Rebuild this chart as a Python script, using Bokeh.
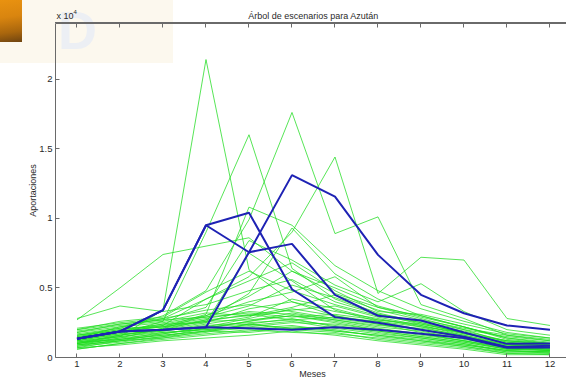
from bokeh.plotting import figure
from bokeh.models import (Range1d, LinearAxis, FixedTicker, Label, NumeralTickFormatter,
                          CustomJSTickFormatter, GridBox, Div)
from bokeh.embed import file_html
from bokeh.resources import INLINE
import math

# ---------------- data (values in units of 10^4) ----------------
months = [1, 2, 3, 4, 5, 6, 7, 8, 9, 10, 11, 12]
x_ticks = [1, 2, 3, 4, 5, 6, 7, 8, 9, 10, 11, 12]
y_ticks = [0, 0.5, 1, 1.5, 2]

# scenario tree (blue)
blue_1 = [0.134, 0.187, 0.340, 0.950, 1.040, 0.490, 0.290, 0.250, 0.200, 0.150, 0.075, 0.085]
blue_2 = [0.134, 0.187, 0.340, 0.950, 0.756, 0.816, 0.450, 0.300, 0.266, 0.180, 0.098, 0.100]
blue_3 = [0.134, 0.187, 0.199, 0.218, 0.756, 1.310, 1.155, 0.737, 0.450, 0.318, 0.230, 0.200]
blue_4 = [0.134, 0.187, 0.199, 0.218, 0.210, 0.200, 0.218, 0.200, 0.170, 0.140, 0.070, 0.072]

# simulated series (green)
g01 = [0.10, 0.15, 0.34, 2.14, 0.63, 0.40, 0.30, 0.25, 0.20, 0.15, 0.08, 0.06]
g02 = [0.12, 0.17, 0.26, 0.90, 1.60, 0.64, 0.42, 0.31, 0.24, 0.18, 0.10, 0.09]
g03 = [0.16, 0.21, 0.30, 0.48, 0.99, 1.76, 0.89, 1.01, 0.38, 0.28, 0.16, 0.12]
g04 = [0.14, 0.22, 0.28, 0.42, 0.58, 0.90, 1.44, 0.46, 0.72, 0.70, 0.28, 0.23]
g05 = [0.27, 0.50, 0.74, 0.80, 0.86, 0.62, 0.46, 0.36, 0.30, 0.22, 0.13, 0.10]
g06 = [0.28, 0.37, 0.33, 0.38, 0.48, 0.56, 0.40, 0.31, 0.26, 0.20, 0.15, 0.12]
g07 = [0.13, 0.19, 0.22, 0.31, 1.08, 0.95, 0.66, 0.48, 0.35, 0.26, 0.18, 0.14]
g08 = [0.18, 0.24, 0.27, 0.36, 0.84, 0.70, 0.52, 0.40, 0.53, 0.33, 0.20, 0.16]
g09 = [0.11, 0.16, 0.20, 0.27, 0.46, 0.93, 0.60, 0.42, 0.30, 0.22, 0.14, 0.10]
g10 = [0.20, 0.26, 0.29, 0.47, 0.62, 0.48, 0.38, 0.30, 0.25, 0.17, 0.12, 0.09]
g11 = [0.09, 0.14, 0.21, 0.30, 0.40, 0.47, 0.58, 0.36, 0.28, 0.20, 0.11, 0.08]
g12 = [0.15, 0.20, 0.24, 0.25, 0.35, 0.40, 0.33, 0.28, 0.22, 0.18, 0.10, 0.07]
g13 = [0.07, 0.12, 0.17, 0.22, 0.28, 0.35, 0.30, 0.24, 0.18, 0.14, 0.07, 0.05]
g14 = [0.19, 0.23, 0.26, 0.32, 0.30, 0.36, 0.45, 0.34, 0.27, 0.21, 0.16, 0.13]
g15 = [0.08, 0.11, 0.15, 0.18, 0.24, 0.28, 0.22, 0.18, 0.14, 0.10, 0.05, 0.04]
g16 = [0.12, 0.18, 0.23, 0.28, 0.33, 0.31, 0.27, 0.23, 0.21, 0.16, 0.09, 0.07]
g17 = [0.06, 0.10, 0.13, 0.16, 0.19, 0.22, 0.20, 0.15, 0.12, 0.08, 0.03, 0.03]
g18 = [0.17, 0.21, 0.22, 0.26, 0.27, 0.30, 0.26, 0.21, 0.17, 0.12, 0.07, 0.06]
g19 = [0.10, 0.13, 0.18, 0.20, 0.22, 0.25, 0.24, 0.20, 0.16, 0.12, 0.06, 0.05]
g20 = [0.14, 0.17, 0.19, 0.23, 0.25, 0.27, 0.29, 0.26, 0.22, 0.15, 0.09, 0.08]
g21 = [0.09, 0.12, 0.14, 0.17, 0.20, 0.18, 0.17, 0.14, 0.11, 0.08, 0.04, 0.04]
g22 = [0.21, 0.25, 0.28, 0.34, 0.38, 0.33, 0.28, 0.24, 0.20, 0.14, 0.08, 0.07]
g23 = [0.11, 0.15, 0.19, 0.24, 0.29, 0.42, 0.35, 0.27, 0.23, 0.17, 0.11, 0.09]
g24 = [0.07, 0.09, 0.12, 0.14, 0.16, 0.19, 0.16, 0.12, 0.09, 0.06, 0.02, 0.02]
g25 = [0.13, 0.16, 0.21, 0.26, 0.31, 0.27, 0.23, 0.19, 0.15, 0.11, 0.06, 0.05]
g26 = [0.16, 0.19, 0.24, 0.29, 0.37, 0.52, 0.43, 0.32, 0.25, 0.19, 0.12, 0.10]
g27 = [0.08, 0.13, 0.16, 0.19, 0.21, 0.23, 0.19, 0.16, 0.13, 0.09, 0.05, 0.03]
g28 = [0.10, 0.14, 0.17, 0.21, 0.26, 0.32, 0.27, 0.22, 0.19, 0.13, 0.08, 0.06]
g29 = [0.15, 0.18, 0.20, 0.22, 0.24, 0.21, 0.22, 0.19, 0.15, 0.11, 0.06, 0.06]
g30 = [0.12, 0.15, 0.18, 0.20, 0.23, 0.26, 0.21, 0.17, 0.14, 0.10, 0.04, 0.04]
g31 = [0.06, 0.10, 0.14, 0.19, 0.24, 0.20, 0.18, 0.13, 0.10, 0.07, 0.03, 0.02]
g32 = [0.18, 0.22, 0.25, 0.30, 0.44, 0.62, 0.50, 0.37, 0.29, 0.22, 0.14, 0.11]
g33 = [0.11, 0.13, 0.16, 0.19, 0.18, 0.21, 0.19, 0.16, 0.12, 0.09, 0.05, 0.04]
g34 = [0.14, 0.19, 0.22, 0.27, 0.30, 0.34, 0.37, 0.29, 0.23, 0.16, 0.10, 0.08]
g35 = [0.09, 0.12, 0.15, 0.21, 0.26, 0.30, 0.25, 0.20, 0.17, 0.12, 0.07, 0.05]
g36 = [0.20, 0.24, 0.27, 0.29, 0.32, 0.29, 0.31, 0.27, 0.24, 0.18, 0.12, 0.10]
g37 = [0.10, 0.16, 0.20, 0.25, 0.75, 0.55, 0.34, 0.26, 0.20, 0.15, 0.09, 0.07]
g38 = [0.16, 0.20, 0.23, 0.42, 0.55, 0.68, 0.48, 0.33, 0.31, 0.24, 0.17, 0.14]

green_series = [g01, g02, g03, g04, g05, g06, g07, g08, g09, g10, g11, g12, g13,
                g14, g15, g16, g17, g18, g19, g20, g21, g22, g23, g24, g25, g26,
                g27, g28, g29, g30, g31, g32, g33, g34, g35, g36, g37, g38]
blue_series = [blue_1, blue_2, blue_3, blue_4]

title_text = "Árbol de escenarios para Azután"
x_label = "Meses"
y_label = "Aportaciones"
exp_base = "x 10"
exp_power = "4"

FONT = "Liberation Sans"
AX = "#6a6a6a"
TXT = "#2a2a2a"
W, H = 566, 379

# ---------------- bottom layer: page decoration (cream band, watermark, logo, box edge) ----------------
deco_html = (
    '<div style="position:relative;width:566px;height:379px;overflow:hidden;background:white">'
    '<div style="position:absolute;left:0;top:0;width:173px;height:63px;background:#fcf8ee"></div>'
    '<div style="position:absolute;left:58px;top:3px;font:bold 54px \'Liberation Sans\';'
    'line-height:54px;color:#eceff4">D</div>'
    '<div style="position:absolute;left:0;top:0;width:22px;height:42px;'
    'background:linear-gradient(172deg,#e99210 0%,#d9850f 40%,#a9660d 75%,#6f4410 100%)"></div>'
    '<div style="position:absolute;left:55px;top:22px;width:511px;height:1px;background:#6a6a6a"></div>'
    '</div>'
)
deco = Div(text=deco_html, width=W, height=H, margin=0)

# ---------------- middle layer: outer texts (title, axis labels, exponent) ----------------
texts = figure(width=W, height=H, output_backend="svg", toolbar_location=None, title=None,
               x_range=Range1d(0, 1), y_range=Range1d(0, 1), x_axis_type=None, y_axis_type=None,
               min_border=0)
texts.outline_line_color = None
texts.grid.visible = False
texts.background_fill_alpha = 0
texts.border_fill_alpha = 0

def txt(x, y, t, size="9px", angle=0.0, align="center"):
    return Label(x=x, y=y, x_units="canvas", y_units="canvas", text=t, text_font=FONT,
                 text_font_size=size, text_color=TXT, text_align=align, text_baseline="middle",
                 angle=angle)

texts.add_layout(txt(313, 15, title_text), "above")
texts.add_layout(txt(73, 11, exp_power, size="6px", align="left"), "above")
texts.add_layout(txt(56, 15, exp_base, align="left"), "left")
texts.add_layout(txt(32, 190, y_label, angle=math.pi / 2), "left")
texts.add_layout(txt(312, 373, x_label), "below")

# ---------------- top layer: the chart ----------------
p = figure(width=W, height=H, output_backend="svg", toolbar_location=None, title=None,
           x_range=Range1d(0.5, 12.384), y_range=Range1d(0, 2.399),
           min_border_left=55, min_border_right=0, min_border_top=23, min_border_bottom=22)
p.outline_line_color = None
p.xgrid.visible = False
p.ygrid.visible = False
p.background_fill_alpha = 0
p.border_fill_alpha = 0

for s in green_series:
    p.line(months, s, line_color="#1fdc1f", line_width=1, line_alpha=0.75)
for s in blue_series:
    p.line(months, s, line_color="#1e22b4", line_width=2)

def style_axis(ax):
    ax.axis_line_color = AX
    ax.major_tick_line_color = AX
    ax.minor_tick_line_color = None
    ax.major_tick_in = 4
    ax.major_tick_out = 0
    ax.major_label_text_font = FONT
    ax.major_label_text_font_size = "9.5px"
    ax.major_label_text_color = TXT
    ax.major_label_standoff = 3

style_axis(p.xaxis[0])
p.xaxis[0].ticker = FixedTicker(ticks=x_ticks)
style_axis(p.yaxis[0])
p.yaxis[0].ticker = FixedTicker(ticks=y_ticks)
p.yaxis[0].formatter = NumeralTickFormatter(format="0.[0]")

top_axis = LinearAxis(ticker=FixedTicker(ticks=x_ticks), formatter=CustomJSTickFormatter(code="return ''"))
style_axis(top_axis)
top_axis.major_label_standoff = 0
p.add_layout(top_axis, "above")

page = GridBox(children=[(deco, 0, 0), (texts, 0, 0), (p, 0, 0)], width=W, height=H)

open("out.html", "w").write(file_html(page, INLINE))
